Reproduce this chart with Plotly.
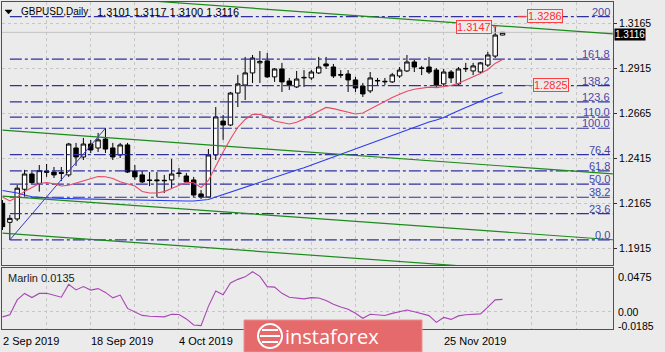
import plotly.graph_objects as go

# ---------------- data ----------------
bar_index = list(range(69))            # daily bars, 2 Sep 2019 .. 5 Dec 2019
date_ticks = [0, 12, 24, 60]
date_labels = ["2 Sep 2019", "18 Sep 2019", "4 Oct 2019", "25 Nov 2019"]

open_ = [1.2164, 1.2058, 1.2077, 1.2242, 1.2327, 1.2275, 1.2336, 1.2338, 1.2335, 1.2322,
         1.2472, 1.2422, 1.2494, 1.2472, 1.2522, 1.2472, 1.2433, 1.2489, 1.2344, 1.2322,
         1.2294, 1.2294, 1.2292, 1.2294, 1.2333, 1.2316, 1.2294, 1.2216, 1.2199, 1.2433,
         1.2622, 1.2600, 1.2778, 1.2823, 1.2890, 1.2946, 1.2957, 1.2868, 1.2912, 1.2845,
         1.2812, 1.2862, 1.2862, 1.2890, 1.2940, 1.2923, 1.2881, 1.2884, 1.2851, 1.2817,
         1.2790, 1.2845, 1.2840, 1.2840, 1.2873, 1.2901, 1.2951, 1.2918, 1.2923, 1.2906,
         1.2829, 1.2895, 1.2829, 1.2912, 1.2901, 1.2895, 1.2934, 1.2984, 1.3101]
high = [1.2182, 1.2099, 1.2266, 1.2350, 1.2341, 1.2377, 1.2383, 1.2366, 1.2366, 1.2500,
        1.2500, 1.2528, 1.2517, 1.2556, 1.2583, 1.2500, 1.2500, 1.2500, 1.2377, 1.2344,
        1.2338, 1.2338, 1.2322, 1.2411, 1.2361, 1.2333, 1.2311, 1.2238, 1.2466, 1.2700,
        1.2656, 1.2784, 1.2879, 1.2979, 1.2990, 1.3012, 1.3001, 1.2917, 1.2946, 1.2862,
        1.2901, 1.2906, 1.2906, 1.2979, 1.2979, 1.2940, 1.2906, 1.2906, 1.2868, 1.2834,
        1.2895, 1.2862, 1.2862, 1.2890, 1.2923, 1.2990, 1.2962, 1.2929, 1.2979, 1.2917,
        1.2912, 1.2906, 1.2923, 1.2946, 1.2946, 1.2951, 1.3007, 1.3147, 1.3117]
low = [1.2015, 1.1960, 1.2065, 1.2201, 1.2271, 1.2229, 1.2311, 1.2305, 1.2288, 1.2311,
       1.2372, 1.2405, 1.2444, 1.2450, 1.2444, 1.2405, 1.2416, 1.2333, 1.2294, 1.2277,
       1.2260, 1.2199, 1.2221, 1.2249, 1.2311, 1.2277, 1.2199, 1.2188, 1.2194, 1.2405,
       1.2517, 1.2594, 1.2700, 1.2739, 1.2834, 1.2834, 1.2862, 1.2840, 1.2784, 1.2795,
       1.2806, 1.2812, 1.2851, 1.2884, 1.2912, 1.2862, 1.2862, 1.2784, 1.2784, 1.2756,
       1.2778, 1.2823, 1.2823, 1.2834, 1.2862, 1.2895, 1.2895, 1.2878, 1.2884, 1.2812,
       1.2812, 1.2834, 1.2823, 1.2895, 1.2878, 1.2890, 1.2923, 1.2973, 1.3100]
close = [1.2034, 1.2080, 1.2248, 1.2327, 1.2279, 1.2346, 1.2344, 1.2322, 1.2331, 1.2494,
         1.2422, 1.2494, 1.2461, 1.2517, 1.2466, 1.2422, 1.2489, 1.2338, 1.2311, 1.2283,
         1.2291, 1.2290, 1.2290, 1.2327, 1.2330, 1.2283, 1.2210, 1.2199, 1.2433, 1.2645,
         1.2600, 1.2778, 1.2829, 1.2890, 1.2973, 1.2954, 1.2868, 1.2912, 1.2840, 1.2823,
         1.2856, 1.2865, 1.2895, 1.2923, 1.2929, 1.2873, 1.2878, 1.2851, 1.2806, 1.2773,
         1.2862, 1.2848, 1.2843, 1.2879, 1.2906, 1.2951, 1.2923, 1.2915, 1.2895, 1.2823,
         1.2895, 1.2862, 1.2912, 1.2915, 1.2929, 1.2946, 1.2990, 1.3101, 1.3116]

red_ma = [1.2199, 1.2177, 1.2199, 1.2230, 1.2252, 1.2274, 1.2279, 1.2273, 1.2260, 1.2264,
          1.2277, 1.2288, 1.2299, 1.2313, 1.2312, 1.2302, 1.2284, 1.2273, 1.2260, 1.2230,
          1.2221, 1.2221, 1.2229, 1.2246, 1.2263, 1.2281, 1.2278, 1.2252, 1.2291, 1.2374,
          1.2450, 1.2522, 1.2587, 1.2631, 1.2659, 1.2659, 1.2645, 1.2622, 1.2613, 1.2606,
          1.2615, 1.2633, 1.2656, 1.2676, 1.2698, 1.2691, 1.2681, 1.2671, 1.2661, 1.2667,
          1.2689, 1.2711, 1.2734, 1.2753, 1.2771, 1.2788, 1.2799, 1.2806, 1.2811, 1.2808,
          1.2812, 1.2820, 1.2832, 1.2849, 1.2867, 1.2887, 1.2909, 1.2943, 1.2965]
blue_ma = [1.2235, 1.2230, 1.2221, 1.2210, 1.2200, 1.2197, 1.2194, 1.2192, 1.2191, 1.2190,
           1.2189, 1.2188, 1.2187, 1.2186, 1.2185, 1.2183, 1.2182, 1.2182, 1.2181, 1.2181,
           1.2180, 1.2180, 1.2179, 1.2178, 1.2177, 1.2177, 1.2177, 1.2179, 1.2185, 1.2199,
           1.2213, 1.2227, 1.2241, 1.2255, 1.2266, 1.2280, 1.2296, 1.2310, 1.2324, 1.2338,
           1.2349, 1.2362, 1.2377, 1.2394, 1.2408, 1.2425, 1.2439, 1.2452, 1.2467, 1.2483,
           1.2498, 1.2514, 1.2528, 1.2544, 1.2561, 1.2575, 1.2589, 1.2603, 1.2617, 1.2628,
           1.2642, 1.2661, 1.2681, 1.2697, 1.2714, 1.2734, 1.2750, 1.2767, 1.2781]
marlin = [-0.0054, -0.0032, 0.0130, 0.0200, 0.0155, 0.0200, 0.0202, 0.0177, 0.0159, 0.0298,
          0.0238, 0.0274, 0.0236, 0.0252, 0.0211, 0.0152, 0.0182, 0.0038, -0.0003, -0.0038,
          -0.0047, -0.0050, -0.0054, -0.0025, -0.0028, -0.0076, -0.0141, -0.0148, 0.0060, 0.0227,
          0.0186, 0.0314, 0.0352, 0.0379, 0.0435, 0.0384, 0.0273, 0.0268, 0.0201, 0.0159,
          0.0146, 0.0141, 0.0154, 0.0150, 0.0124, 0.0083, 0.0054, 0.0028, -0.0015, -0.0069,
          -0.0025, -0.0036, -0.0039, -0.0016, 0.0004, 0.0021, 0.0002, -0.0016, -0.0040, -0.0113,
          -0.0060, -0.0081, -0.0043, -0.0031, -0.0025, -0.0021, 0.0052, 0.0130, 0.0135]

fib_start, fib_end = 1, 14
fib_low, fib_high = 1.1960, 1.2582
fib_ratios = [0.0, 23.6, 38.2, 50.0, 61.8, 76.4, 100.0, 110.0, 123.6, 138.2, 161.8, 200.0]
fib_texts = ["0.0", "23.6", "38.2", "50.0", "61.8", "76.4", "100.0", "110.0",
             "123.6", "138.2", "161.8", "200"]

channel_x = [0, 83]
channel_lines = [[1.3350, 1.3107], [1.2571, 1.2328], [1.2204, 1.1961], [1.1998, 1.1755]]

price_ticks = [1.1915, 1.2165, 1.2415, 1.2665, 1.2915, 1.3165]
marlin_tick_texts = ["0.0475", "0.00", "-0.0185"]
last_price = 1.3116
marks = [("1.3147", 1.3147, 64.1, 66.7, 67.2),
         ("1.3286", 1.3205, 73.8, 70.0, 71.3),
         ("1.2825", 1.2820, 74.65, 71.05, 72.1)]

# ---------------- geometry helpers (pixel -> paper) ----------------
W, H = 665, 352
ML, MR, MT, MB = 2, 52, 2, 23
PW, PH = W - ML - MR, H - MT - MB


def PX(x):
    return (x - ML) / PW


def PY(y):
    return (H - MB - y) / PH


FONT = "Liberation Sans, Arial, sans-serif"
BG = "#ebebeb"
XR = [-0.068, 83.02]

fig = go.Figure()

# bid line
fig.add_trace(go.Scatter(x=XR, y=[last_price, last_price], mode="lines", xaxis="x2", yaxis="y",
                         line=dict(color="#c2c2c2", width=1), hoverinfo="skip", showlegend=False))

fig.add_trace(go.Candlestick(
    x=bar_index, open=open_, high=high, low=low, close=close, xaxis="x2", yaxis="y",
    increasing=dict(line=dict(color="black", width=1), fillcolor="white"),
    decreasing=dict(line=dict(color="black", width=1), fillcolor="black"),
    whiskerwidth=0, showlegend=False, hoverinfo="skip"))

# fibonacci levels
for r in fib_ratios:
    lv = fib_low + r / 100.0 * (fib_high - fib_low)
    fig.add_trace(go.Scatter(x=[fib_start, 84], y=[lv, lv], mode="lines", xaxis="x2", yaxis="y",
                             line=dict(color="#3030a0", width=1.2, dash="12px,3px,3px,3px"),
                             hoverinfo="skip", showlegend=False))
fig.add_trace(go.Scatter(x=[fib_start, fib_end], y=[fib_low, fib_high], mode="lines",
                         xaxis="x2", yaxis="y", line=dict(color="#3838c8", width=1),
                         hoverinfo="skip", showlegend=False))

# channel lines
for ln in channel_lines:
    fig.add_trace(go.Scatter(x=channel_x, y=ln, mode="lines", xaxis="x2", yaxis="y",
                             line=dict(color="#1c8a1c", width=1.2),
                             hoverinfo="skip", showlegend=False))

# moving averages
fig.add_trace(go.Scatter(x=bar_index, y=blue_ma, mode="lines", xaxis="x2", yaxis="y",
                         line=dict(color="#2a3cf0", width=1.1), hoverinfo="skip", showlegend=False))
fig.add_trace(go.Scatter(x=bar_index, y=red_ma, mode="lines", xaxis="x2", yaxis="y",
                         line=dict(color="#e84a66", width=1.1), hoverinfo="skip", showlegend=False))

# marlin oscillator
fig.add_trace(go.Scatter(x=bar_index, y=marlin, mode="lines", xaxis="x", yaxis="y2",
                         line=dict(color="#a846b4", width=1.1), hoverinfo="skip", showlegend=False))

ann = []
shapes = []

for r, t in zip(fib_ratios, fib_texts):
    lv = fib_low + r / 100.0 * (fib_high - fib_low)
    ann.append(dict(x=XR[1], y=lv, xref="x2", yref="y", text=t, showarrow=False,
                    xanchor="right", yanchor="bottom", yshift=-3, xshift=-1,
                    font=dict(family=FONT, size=11, color="#4848a8")))

for txt, lv, xc, x0, x1 in marks:
    shapes.append(dict(type="line", xref="x2", yref="y", x0=x0, x1=x1, y0=lv, y1=lv,
                       line=dict(color="#ff4040", width=1)))
    ann.append(dict(x=xc, y=lv, xref="x2", yref="y", text=txt, showarrow=False,
                    xanchor="center", yanchor="middle", bordercolor="#ff4040", borderwidth=1,
                    borderpad=0, bgcolor=BG, font=dict(family=FONT, size=11, color="#ff3030")))

# title
shapes.append(dict(type="path", xref="paper", yref="paper", layer="above",
                   path=f"M {PX(5)} {PY(10)} L {PX(12)} {PY(10)} L {PX(8.5)} {PY(14)} Z",
                   fillcolor="black", line=dict(color="black", width=0.5)))
ann.append(dict(x=PX(19), y=PY(12), xref="paper", yref="paper", text="GBPUSD,Daily",
                showarrow=False, xanchor="left", yanchor="middle",
                font=dict(family=FONT, size=10, color="black")))
ann.append(dict(x=PX(95), y=PY(12), xref="paper", yref="paper",
                text="1.3101 1.3117 1.3100 1.3116", showarrow=False, xanchor="left",
                yanchor="middle", font=dict(family=FONT, size=11, color="black")))

# current price box
ann.append(dict(x=PX(614), y=last_price, xref="paper", yref="y", text="1.3116", showarrow=False,
                xanchor="left", yanchor="middle", bgcolor="black", borderpad=0, yshift=-2.5,
                font=dict(family=FONT, size=10, color="white")))

# marlin labels
ann.append(dict(x=PX(6), y=PY(278), xref="paper", yref="paper", text="Marlin 0.0135",
                showarrow=False, xanchor="left", yanchor="middle",
                font=dict(family=FONT, size=11, color="#222222")))
ann.append(dict(x=PX(617), y=PY(277), xref="paper", yref="paper", text=marlin_tick_texts[0],
                showarrow=False, xanchor="left", yanchor="middle", borderpad=0,
                font=dict(family=FONT, size=11, color="black")))
ann.append(dict(x=PX(617), y=PY(318.5), xref="paper", yref="paper", text=marlin_tick_texts[1],
                showarrow=False, xanchor="left", yanchor="bottom", borderpad=0,
                font=dict(family=FONT, size=10.5, color="black")))
ann.append(dict(x=PX(617), y=PY(318.5), xref="paper", yref="paper", text=marlin_tick_texts[2],
                showarrow=False, xanchor="left", yanchor="top", borderpad=0,
                font=dict(family=FONT, size=10.5, color="black")))

# date labels
for b, t in zip(date_ticks, date_labels):
    ann.append(dict(x=b, y=PY(341), xref="x", yref="paper", text=t, showarrow=False,
                    xanchor="left", yanchor="middle", xshift=-2,
                    font=dict(family=FONT, size=11, color="black")))

# watermark banner
shapes.append(dict(type="rect", xref="paper", yref="paper", layer="above",
                   x0=PX(244), x1=PX(422), y0=PY(352), y1=PY(320),
                   fillcolor="#e46a6c", line=dict(color="#ee9090", width=1)))
shapes.append(dict(type="circle", xref="paper", yref="paper", layer="above",
                   x0=PX(258), x1=PX(282), y0=PY(348), y1=PY(324),
                   fillcolor="rgba(0,0,0,0)", line=dict(color="white", width=2)))
for yy, hw in [(330, 8), (336, 10), (342, 8)]:
    shapes.append(dict(type="line", xref="paper", yref="paper", layer="above",
                       x0=PX(270 - hw), x1=PX(270 + hw), y0=PY(yy), y1=PY(yy),
                       line=dict(color="white", width=2)))
ann.append(dict(x=PX(332), y=PY(336), xref="paper", yref="paper", text="instaforex",
                showarrow=False, xanchor="center", yanchor="middle",
                font=dict(family="Open Sans, sans-serif", size=20, color="white")))

main_bottom = PY(265)
sub_top = PY(268)

fig.update_layout(
    width=W, height=H, margin=dict(l=ML, r=MR, t=MT, b=MB),
    paper_bgcolor=BG, plot_bgcolor=BG, showlegend=False,
    boxgap=0.2, boxgroupgap=0.25,
    xaxis=dict(domain=[0, 1], range=XR, anchor="y2", showticklabels=False, ticks="",
               tick0=0, dtick=6, showgrid=True, gridcolor="#c6c6c6", griddash="dot",
               gridwidth=1, zeroline=False, showline=True, linecolor="#505050", mirror=True,
               rangeslider=dict(visible=False), fixedrange=True),
    xaxis2=dict(domain=[0, 1], range=XR, anchor="y", showticklabels=False, ticks="",
                tick0=0, dtick=6, showgrid=True, gridcolor="#c6c6c6", griddash="dot",
                gridwidth=1, zeroline=False, showline=True, linecolor="#505050", mirror=True,
                rangeslider=dict(visible=False), matches="x"),
    yaxis=dict(domain=[main_bottom, 1], range=[1.18203, 1.3285], side="right", anchor="x2",
               tickmode="array", tickvals=price_ticks, ticktext=[f"{v:.4f}" for v in price_ticks],
               ticks="outside", ticklen=3, tickcolor="#303030",
               tickfont=dict(family=FONT, size=10.5, color="black"),
               showgrid=True, gridcolor="#c6c6c6", griddash="dot", zeroline=False,
               showline=True, linecolor="#505050", mirror=True),
    yaxis2=dict(domain=[0, sub_top], range=[-0.0185, 0.0475], side="right", anchor="x",
                tickmode="array", tickvals=[0.0], showticklabels=False, ticks="",
                showgrid=True, gridcolor="#c6c6c6", griddash="dot", zeroline=False,
                showline=True, linecolor="#505050", mirror=True),
    annotations=ann, shapes=shapes,
)

fig.write_html("out.html")
